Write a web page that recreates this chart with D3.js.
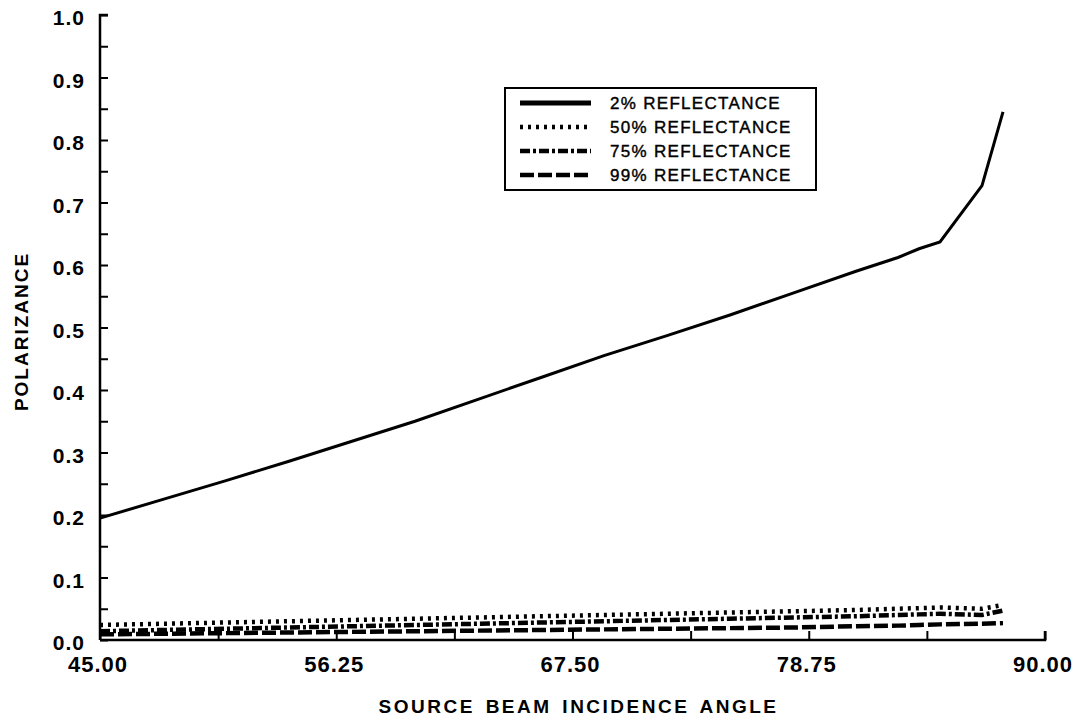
<!DOCTYPE html>
<html lang="en">
<head>
  <meta charset="UTF-8">
  <title>Polarizance vs Source Beam Incidence Angle</title>
  <script src="https://d3js.org/d3.v7.min.js"></script>
  <style>
    body { margin: 0; background: #fff; }
    svg { display: block; }
    text { font-family: "Liberation Sans", Arial, sans-serif; fill: #000; }
  </style>
</head>
<body>
  <svg width="1079" height="726"></svg>

  <script>
    const width = 1079;
    const height = 726;
    const margin = { top: 15, right: 34, bottom: 86, left: 100 };

    // data
    const angles = [45, 48, 51, 54, 57, 60, 63, 66, 69, 72, 75, 78, 81, 83, 84, 85, 87, 88];
    const refl2  = [0.195, 0.225, 0.255, 0.286, 0.318, 0.350, 0.385, 0.420, 0.455, 0.487, 0.520, 0.555, 0.590, 0.612, 0.626, 0.637, 0.727, 0.845];
    const refl50 = [0.024, 0.026, 0.028, 0.030, 0.032, 0.034, 0.036, 0.038, 0.040, 0.042, 0.044, 0.046, 0.048, 0.050, 0.051, 0.052, 0.050, 0.056];
    const refl75 = [0.014, 0.016, 0.018, 0.020, 0.022, 0.024, 0.026, 0.028, 0.030, 0.032, 0.034, 0.036, 0.038, 0.040, 0.041, 0.042, 0.040, 0.047];
    const refl99 = [0.009, 0.010, 0.011, 0.012, 0.013, 0.014, 0.015, 0.016, 0.017, 0.018, 0.019, 0.020, 0.022, 0.023, 0.024, 0.025, 0.026, 0.027];

    const seriesNames = ["2% REFLECTANCE", "50% REFLECTANCE", "75% REFLECTANCE", "99% REFLECTANCE"];
    const xTicks = [45, 56.25, 67.5, 78.75, 90];
    const yTicks = [0, 0.1, 0.2, 0.3, 0.4, 0.5, 0.6, 0.7, 0.8, 0.9, 1.0];

    const series = [
      { name: seriesNames[0], values: refl2,  width: 3,   dash: null },
      { name: seriesNames[1], values: refl50, width: 4.5, dash: "3,5" },
      { name: seriesNames[2], values: refl75, width: 4.5, dash: "10,3,3,3" },
      { name: seriesNames[3], values: refl99, width: 4.5, dash: "14,4" }
    ];

    const svg = d3.select("svg");

    const x = d3.scaleLinear()
      .domain([45, 90])
      .range([margin.left, width - margin.right]);

    const y = d3.scaleLinear()
      .domain([0, 1])
      .range([height - margin.bottom, margin.top]);

    // x axis: ticks point up, every 5.625
    const xAxis = svg.append("g")
      .attr("transform", `translate(0,${y(0)})`)
      .call(d3.axisTop(x)
        .tickValues(d3.range(45, 90.01, 5.625))
        .tickSize(9)
        .tickFormat(""));
    xAxis.select(".domain").attr("d", `M${x(45)},0H${x(90)}V-9`).attr("stroke-width", 2.5);
    xAxis.selectAll(".tick line").attr("stroke-width", 2);

    svg.append("g").selectAll("text")
      .data(xTicks)
      .join("text")
      .attr("x", d => x(d) - 2)
      .attr("y", y(0) + 32)
      .attr("text-anchor", "middle")
      .attr("font-size", 22)
      .attr("font-weight", "bold")
      .attr("letter-spacing", 1)
      .text(d => d.toFixed(2));

    // y axis: ticks point right, every 0.05
    const yAxis = svg.append("g")
      .attr("transform", `translate(${x(45)},0)`)
      .call(d3.axisRight(y)
        .tickValues(d3.range(0, 1.001, 0.05))
        .tickSize(8)
        .tickFormat(""));
    yAxis.select(".domain").attr("d", `M8,${y(1)}H0V${y(0)}`).attr("stroke-width", 2.5);
    yAxis.selectAll(".tick line").attr("stroke-width", 2);

    svg.append("g").selectAll("text")
      .data(yTicks)
      .join("text")
      .attr("x", x(45) - 15)
      .attr("y", d => y(d) + 10)
      .attr("text-anchor", "end")
      .attr("font-size", 21)
      .attr("font-weight", "bold")
      .attr("letter-spacing", 1)
      .text(d => d.toFixed(1));

    // axis titles
    svg.append("text")
      .attr("x", (x(45) + x(90)) / 2 + 6)
      .attr("y", 713)
      .attr("text-anchor", "middle")
      .attr("font-size", 19)
      .attr("font-weight", "bold")
      .attr("letter-spacing", 2.5)
      .attr("word-spacing", 3)
      .text("SOURCE BEAM INCIDENCE ANGLE");

    svg.append("text")
      .attr("transform", `translate(28,${y(0.5) + 4}) rotate(-90)`)
      .attr("text-anchor", "middle")
      .attr("font-size", 19)
      .attr("font-weight", "bold")
      .attr("letter-spacing", 2)
      .text("POLARIZANCE");

    // lines
    const line = d3.line()
      .x((d, i) => x(angles[i]))
      .y(d => y(d));

    svg.append("g").selectAll("path")
      .data(series)
      .join("path")
      .attr("d", d => line(d.values))
      .attr("fill", "none")
      .attr("stroke", "#000")
      .attr("stroke-width", d => d.width)
      .attr("stroke-dasharray", d => d.dash);

    // legend
    const legend = svg.append("g").attr("transform", "translate(505,88)");
    legend.append("rect")
      .attr("width", 311)
      .attr("height", 102)
      .attr("fill", "#fff")
      .attr("stroke", "#000")
      .attr("stroke-width", 2);

    const rows = legend.selectAll("g.row")
      .data(series)
      .join("g")
      .attr("class", "row")
      .attr("transform", (d, i) => `translate(0,${15 + i * 24})`);

    rows.append("line")
      .attr("x1", 15).attr("x2", 86)
      .attr("stroke", "#000")
      .attr("stroke-width", d => d.dash ? 4.5 : 5)
      .attr("stroke-dasharray", d => d.dash);

    rows.append("text")
      .attr("x", 105)
      .attr("y", 6)
      .attr("font-size", 17)
      .attr("letter-spacing", 1.3)
      .attr("stroke", "#000")
      .attr("stroke-width", 0.4)
      .text(d => d.name);
  </script>
</body>
</html>
